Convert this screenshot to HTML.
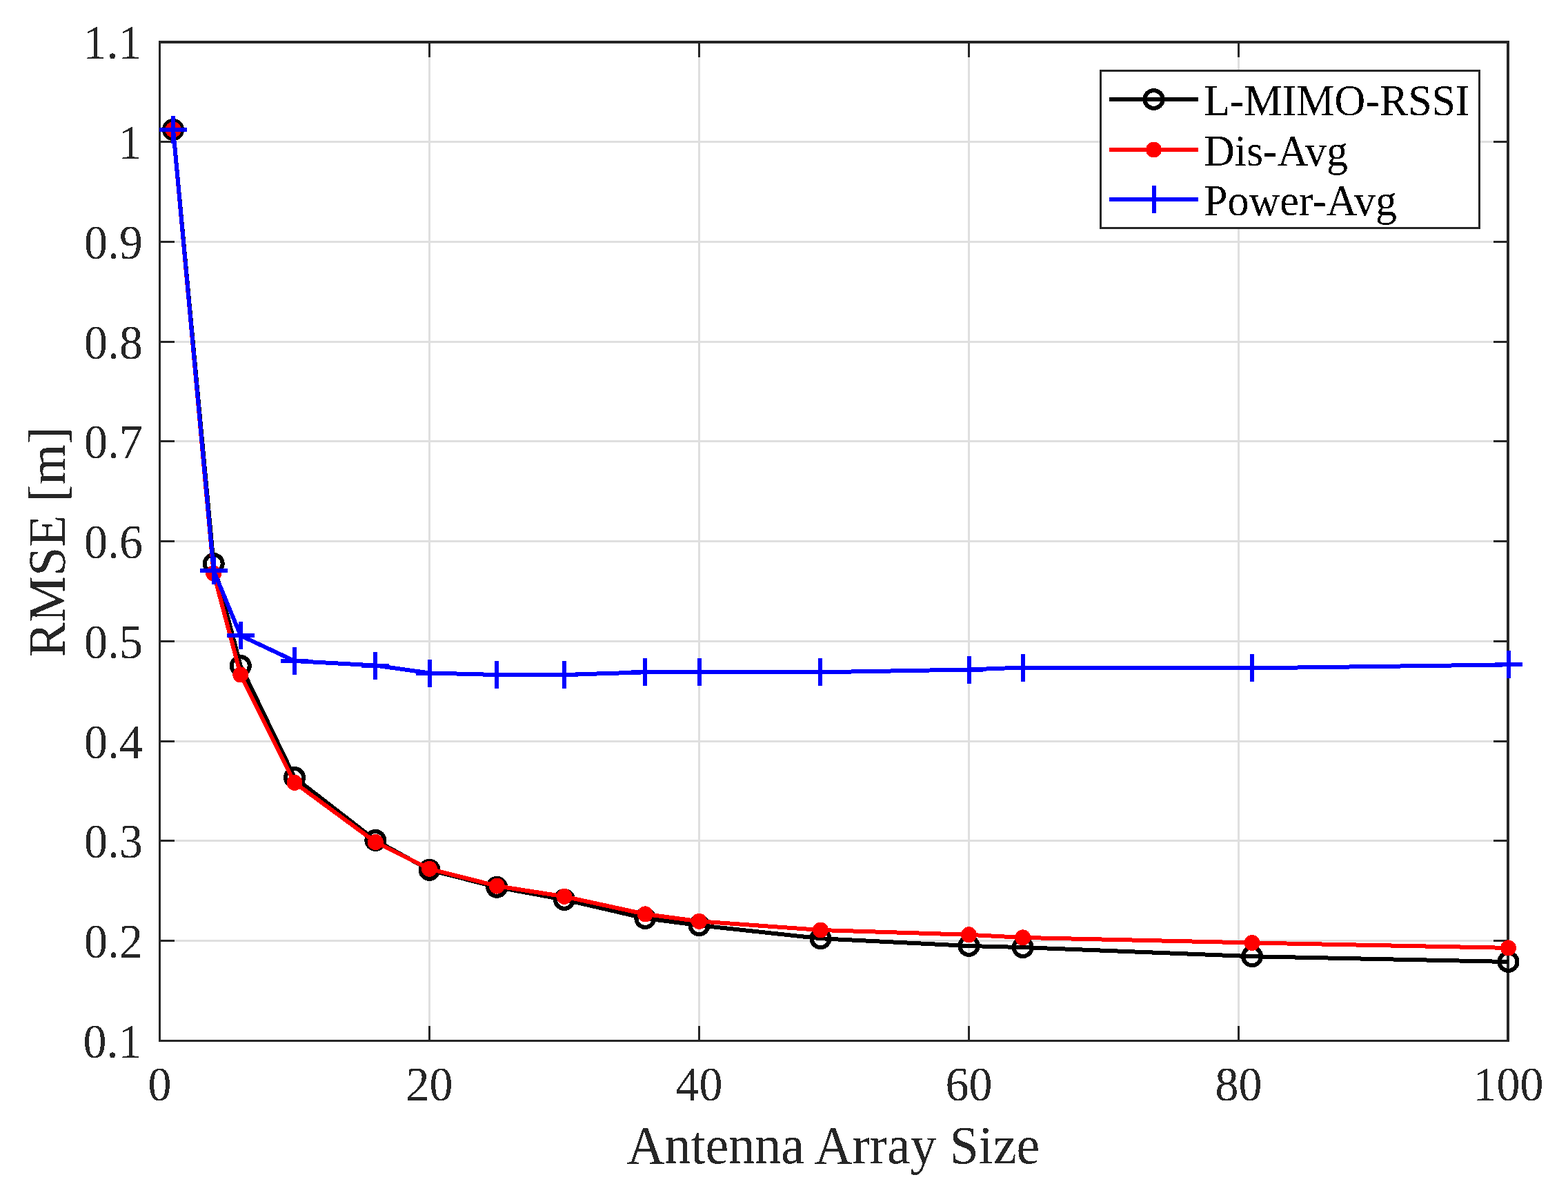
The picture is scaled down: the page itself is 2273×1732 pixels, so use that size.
<!DOCTYPE html>
<html><head><meta charset="utf-8"><title>RMSE vs Antenna Array Size</title>
<style>html,body{margin:0;padding:0;background:#fff;overflow:hidden}svg{display:block}</style>
</head><body>
<svg width="2273" height="1732" viewBox="0 0 2273 1732">
<rect x="0" y="0" width="2273" height="1732" fill="#ffffff"/>
<defs><filter id="bin" x="-5%" y="-5%" width="110%" height="110%" color-interpolation-filters="sRGB"><feComponentTransfer><feFuncA type="discrete" tableValues="0 1"/></feComponentTransfer></filter></defs>
<path d="M622.50 61.00V1508.50M1013.50 61.00V1508.50M1404.50 61.00V1508.50M1795.50 61.00V1508.50M231.50 1363.50H2186.00M231.50 1218.50H2186.00M231.50 1074.50H2186.00M231.50 929.50H2186.00M231.50 784.50H2186.00M231.50 639.50H2186.00M231.50 495.50H2186.00M231.50 350.50H2186.00M231.50 205.50H2186.00" stroke="#dfdfdf" stroke-width="3" fill="none" shape-rendering="crispEdges"/>
<path d="M231.50 1508.50V1487.00M231.50 61.00V82.50M622.50 1508.50V1487.00M622.50 61.00V82.50M1013.50 1508.50V1487.00M1013.50 61.00V82.50M1404.50 1508.50V1487.00M1404.50 61.00V82.50M1795.50 1508.50V1487.00M1795.50 61.00V82.50M2186.50 1508.50V1487.00M2186.50 61.00V82.50M231.50 1508.50H253.00M2186.00 1508.50H2164.50M231.50 1363.50H253.00M2186.00 1363.50H2164.50M231.50 1218.50H253.00M2186.00 1218.50H2164.50M231.50 1074.50H253.00M2186.00 1074.50H2164.50M231.50 929.50H253.00M2186.00 929.50H2164.50M231.50 784.50H253.00M2186.00 784.50H2164.50M231.50 639.50H253.00M2186.00 639.50H2164.50M231.50 495.50H253.00M2186.00 495.50H2164.50M231.50 350.50H253.00M2186.00 350.50H2164.50M231.50 205.50H253.00M2186.00 205.50H2164.50M231.50 61.00H253.00M2186.00 61.00H2164.50" stroke="#262626" stroke-width="3" fill="none" shape-rendering="crispEdges"/>
<g fill="#262626" shape-rendering="crispEdges"><rect x="230" y="59" width="3" height="1451"/><rect x="2184" y="59" width="4" height="1451"/><rect x="230" y="59" width="1958" height="4"/><rect x="230" y="1507" width="1958" height="3"/></g>
<g filter="url(#bin)" font-family="'Liberation Serif', 'Times New Roman', serif" font-size="68" fill="#262626"><text transform="matrix(1 0 0 1.025 231.50 1595)" text-anchor="middle">0</text><text transform="matrix(1 0 0 1.025 622.50 1595)" text-anchor="middle">20</text><text transform="matrix(1 0 0 1.025 1013.50 1595)" text-anchor="middle">40</text><text transform="matrix(1 0 0 1.025 1404.50 1595)" text-anchor="middle">60</text><text transform="matrix(1 0 0 1.025 1795.50 1595)" text-anchor="middle">80</text><text transform="matrix(1 0 0 1.025 2186.50 1595)" text-anchor="middle">100</text><text transform="matrix(1 0 0 1.025 205.5 1532.80)" text-anchor="end">0.1</text><text transform="matrix(1 0 0 1.025 207 1387.80)" text-anchor="end">0.2</text><text transform="matrix(1 0 0 1.025 207 1242.80)" text-anchor="end">0.3</text><text transform="matrix(1 0 0 1.025 207 1098.80)" text-anchor="end">0.4</text><text transform="matrix(1 0 0 1.025 207 953.80)" text-anchor="end">0.5</text><text transform="matrix(1 0 0 1.025 207 808.80)" text-anchor="end">0.6</text><text transform="matrix(1 0 0 1.025 207 663.80)" text-anchor="end">0.7</text><text transform="matrix(1 0 0 1.025 207 519.80)" text-anchor="end">0.8</text><text transform="matrix(1 0 0 1.025 207 374.80)" text-anchor="end">0.9</text><text transform="matrix(1 0 0 1.025 205.5 229.80)" text-anchor="end">1</text><text transform="matrix(1 0 0 1.025 205.5 85.30)" text-anchor="end">1.1</text></g>
<text filter="url(#bin)" transform="matrix(1 0 0 1.018 1208 1686)" text-anchor="middle" font-family="'Liberation Serif', 'Times New Roman', serif" font-size="75.9" fill="#262626">Antenna Array Size</text>
<text filter="url(#bin)" transform="translate(93.6 785.5) rotate(-90)" x="0" y="0" text-anchor="middle" font-family="'Liberation Serif', 'Times New Roman', serif" font-size="75.5" fill="#262626">RMSE [m]</text>
<polyline points="251.05,188.00 309.70,817.00 348.80,965.00 427.00,1127.00 544.30,1217.90 622.50,1260.80 720.25,1285.90 818.00,1303.90 935.30,1331.00 1013.50,1341.20 1189.45,1360.20 1404.50,1371.00 1482.70,1373.10 1815.05,1386.20 2186.50,1394.00" stroke="#000" stroke-width="6" fill="none" stroke-linejoin="round" shape-rendering="crispEdges"/>
<g stroke="#000" stroke-width="6" fill="none" shape-rendering="crispEdges"><circle cx="251.05" cy="188.00" r="13.0"/><circle cx="309.70" cy="817.00" r="13.0"/><circle cx="348.80" cy="965.00" r="13.0"/><circle cx="427.00" cy="1127.00" r="13.0"/><circle cx="544.30" cy="1217.90" r="13.0"/><circle cx="622.50" cy="1260.80" r="13.0"/><circle cx="720.25" cy="1285.90" r="13.0"/><circle cx="818.00" cy="1303.90" r="13.0"/><circle cx="935.30" cy="1331.00" r="13.0"/><circle cx="1013.50" cy="1341.20" r="13.0"/><circle cx="1189.45" cy="1360.20" r="13.0"/><circle cx="1404.50" cy="1371.00" r="13.0"/><circle cx="1482.70" cy="1373.10" r="13.0"/><circle cx="1815.05" cy="1386.20" r="13.0"/><circle cx="2186.50" cy="1394.00" r="13.0"/></g>
<polyline points="251.05,188.00 309.70,831.00 348.80,978.00 427.00,1134.30 544.30,1220.50 622.50,1259.30 720.25,1284.10 818.00,1299.40 935.30,1324.90 1013.50,1335.30 1189.45,1348.00 1404.50,1354.80 1482.70,1358.90 1815.05,1366.50 2186.50,1373.90" stroke="#f00" stroke-width="6" fill="none" stroke-linejoin="round" shape-rendering="crispEdges"/>
<g fill="#f00" shape-rendering="crispEdges"><circle cx="251.05" cy="188.00" r="11.5"/><circle cx="309.70" cy="831.00" r="11.5"/><circle cx="348.80" cy="978.00" r="11.5"/><circle cx="427.00" cy="1134.30" r="11.5"/><circle cx="544.30" cy="1220.50" r="11.5"/><circle cx="622.50" cy="1259.30" r="11.5"/><circle cx="720.25" cy="1284.10" r="11.5"/><circle cx="818.00" cy="1299.40" r="11.5"/><circle cx="935.30" cy="1324.90" r="11.5"/><circle cx="1013.50" cy="1335.30" r="11.5"/><circle cx="1189.45" cy="1348.00" r="11.5"/><circle cx="1404.50" cy="1354.80" r="11.5"/><circle cx="1482.70" cy="1358.90" r="11.5"/><circle cx="1815.05" cy="1366.50" r="11.5"/><circle cx="2186.50" cy="1373.90" r="11.5"/></g>
<polyline points="251.05,188.00 309.70,827.00 348.80,921.20 427.00,958.00 544.30,964.50 622.50,975.50 720.25,978.00 818.00,978.00 935.30,974.30 1013.50,974.30 1189.45,974.30 1404.50,970.50 1482.70,967.50 1815.05,968.40 2186.50,963.40" stroke="#00f" stroke-width="6" fill="none" stroke-linejoin="round" shape-rendering="crispEdges"/>
<path d="M231.05 188.00H271.05M251.05 168.00V208.00M289.70 827.00H329.70M309.70 807.00V847.00M328.80 921.20H368.80M348.80 901.20V941.20M407.00 958.00H447.00M427.00 938.00V978.00M524.30 964.50H564.30M544.30 944.50V984.50M602.50 975.50H642.50M622.50 955.50V995.50M700.25 978.00H740.25M720.25 958.00V998.00M798.00 978.00H838.00M818.00 958.00V998.00M915.30 974.30H955.30M935.30 954.30V994.30M993.50 974.30H1033.50M1013.50 954.30V994.30M1169.45 974.30H1209.45M1189.45 954.30V994.30M1384.50 970.50H1424.50M1404.50 950.50V990.50M1462.70 967.50H1502.70M1482.70 947.50V987.50M1795.05 968.40H1835.05M1815.05 948.40V988.40M2166.50 963.40H2206.50M2186.50 943.40V983.40" stroke="#00f" stroke-width="6" fill="none" shape-rendering="crispEdges"/>
<rect x="1595.5" y="102.5" width="549.0" height="228.0" fill="#fff" stroke="#262626" stroke-width="3" shape-rendering="crispEdges"/>
<path d="M1608 144H1737" stroke="#000" stroke-width="6" shape-rendering="crispEdges"/>
<circle cx="1672.5" cy="144" r="13.0" stroke="#000" stroke-width="6" fill="none" shape-rendering="crispEdges"/>
<path d="M1608 217H1737" stroke="#f00" stroke-width="6" shape-rendering="crispEdges"/>
<circle cx="1672.5" cy="217" r="11.5" fill="#f00" shape-rendering="crispEdges"/>
<path d="M1608 289H1737M1672.5 269V309" stroke="#00f" stroke-width="6" shape-rendering="crispEdges"/>
<g filter="url(#bin)" font-family="'Liberation Serif', 'Times New Roman', serif" font-size="62" fill="#000"><text transform="matrix(1 0 0 1.02 1745 167)">L-MIMO-RSSI</text><text transform="matrix(1 0 0 1.02 1745 240)">Dis-Avg</text><text transform="matrix(1 0 0 1.02 1745 312)">Power-Avg</text></g>
</svg>
</body></html>
